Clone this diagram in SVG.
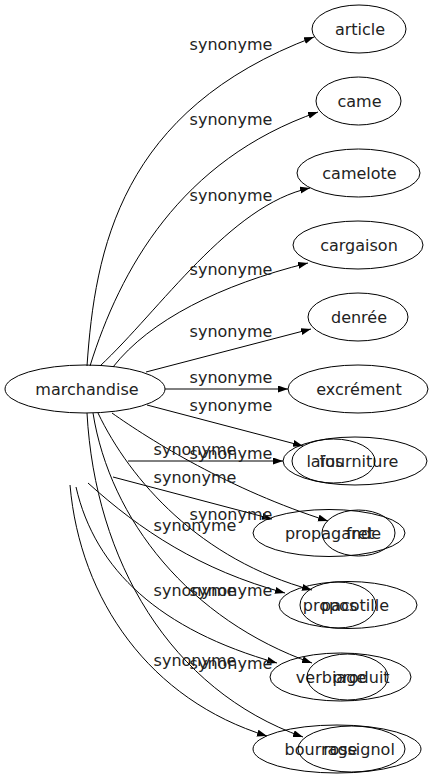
<svg xmlns="http://www.w3.org/2000/svg" width="433" height="779" viewBox="0 0 433 779">
<style>
.n ellipse{fill:none;stroke:#000;stroke-width:1}
text{font-family:"DejaVu Sans","Liberation Sans",sans-serif;font-size:16px;fill:#222;text-anchor:middle}
.e path{fill:none;stroke:#000;stroke-width:1;marker-end:url(#a)}
</style>
<defs>
<marker id="a" markerUnits="userSpaceOnUse" markerWidth="11" markerHeight="8" refX="10" refY="3.5" orient="auto">
<path d="M0,0 L10,3.5 L0,7 z" fill="#000"/>
</marker>
</defs>
<rect width="433" height="779" fill="#fff"/>
<g class="e" id="edges">
<path d="M87,366 C95,250 120,110 314,37"/>
<path d="M90,366 C120,270 180,160 318,112"/>
<path d="M100,366 C160,310 230,205 310,188"/>
<path d="M113,367 C150,320 220,285 308,263"/>
<path d="M146,372 L311,329"/>
<path d="M165,389 L288,389"/>
<path d="M147,405 L303,446"/>
<path d="M128,461 L283,461"/>
<path d="M112,413 C150,440 230,490 328,521"/>
<path d="M113,477 L272,519"/>
<path d="M98,413 C130,480 200,560 312,590"/>
<path d="M88,483 C140,530 200,570 285,593"/>
<path d="M93,413 C110,520 190,620 312,663"/>
<path d="M76,487 C95,570 160,630 277,663"/>
<path d="M87,413 C95,560 170,690 303,737"/>
<path d="M70,485 C80,600 150,700 267,736"/>
</g>
<g id="labels">
<text x="231" y="50">synonyme</text>
<text x="231" y="125">synonyme</text>
<text x="231" y="201">synonyme</text>
<text x="231" y="275">synonyme</text>
<text x="231" y="337">synonyme</text>
<text x="231" y="383">synonyme</text>
<text x="231" y="411">synonyme</text>
<text x="195" y="455">synonyme</text>
<text x="231" y="459">synonyme</text>
<text x="195" y="483">synonyme</text>
<text x="231" y="520">synonyme</text>
<text x="195" y="531">synonyme</text>
<text x="195" y="596">synonyme</text>
<text x="231" y="596">synonyme</text>
<text x="195" y="666">synonyme</text>
<text x="231" y="669">synonyme</text>
</g>
<g class="n" id="marchandise"><ellipse cx="85" cy="389" rx="80" ry="24"/><text x="87" y="394.5">marchandise</text></g>
<g class="n" id="article"><ellipse cx="359" cy="29" rx="47" ry="24"/><text x="360" y="34.5">article</text></g>
<g class="n" id="came"><ellipse cx="358.5" cy="101" rx="42.5" ry="24"/><text x="359.5" y="106.5">came</text></g>
<g class="n" id="camelote"><ellipse cx="358.5" cy="173" rx="61.5" ry="24"/><text x="359.5" y="178.5">camelote</text></g>
<g class="n" id="cargaison"><ellipse cx="358" cy="245" rx="65" ry="24"/><text x="359" y="250.5">cargaison</text></g>
<g class="n" id="denree"><ellipse cx="358" cy="317" rx="50" ry="24"/><text x="359" y="322.5">denrée</text></g>
<g class="n" id="excrement"><ellipse cx="358" cy="389" rx="70" ry="24"/><text x="359" y="394.5">excrément</text></g>
<g class="n" id="fourniture"><ellipse cx="355" cy="461" rx="72" ry="24"/><text x="359" y="466.5">fourniture</text></g>
<g class="n" id="laius"><ellipse cx="333.5" cy="461" rx="41.5" ry="22"/><text x="325" y="466.5">laïus</text></g>
<g class="n" id="propagande"><ellipse cx="329" cy="533" rx="76" ry="23.5"/><text x="333" y="538.5">propagande</text></g>
<g class="n" id="fret"><ellipse cx="358.5" cy="533" rx="36.5" ry="23"/><text x="360" y="538.5">fret</text></g>
<g class="n" id="pacotille"><ellipse cx="348" cy="605" rx="69" ry="23.5"/><text x="355" y="610.5">pacotille</text></g>
<g class="n" id="propos"><ellipse cx="338" cy="605" rx="38" ry="23"/><text x="330" y="610.5">propos</text></g>
<g class="n" id="verbiage"><ellipse cx="340.5" cy="677" rx="70.5" ry="24"/><text x="331" y="682.5">verbiage</text></g>
<g class="n" id="produit"><ellipse cx="347.5" cy="677" rx="40.5" ry="23"/><text x="361" y="682.5">produit</text></g>
<g class="n" id="bourrage"><ellipse cx="337" cy="749" rx="84" ry="24"/><text x="321" y="754.5">bourrage</text></g>
<g class="n" id="rossignol"><ellipse cx="351.5" cy="749" rx="53.5" ry="23"/><text x="359" y="754.5">rossignol</text></g>
</svg>
